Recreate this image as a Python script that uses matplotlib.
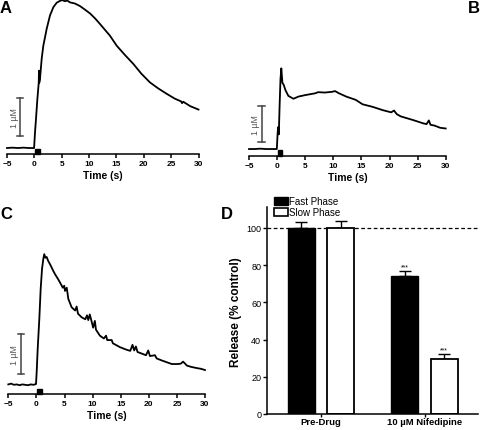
import matplotlib
matplotlib.use('Agg')
import matplotlib.pyplot as plt
from matplotlib.patches import Rectangle, Patch
import numpy as np

plt.rcParams['font.family'] = ['Liberation Sans', 'DejaVu Sans']

# traces, time in s and calcium in uM above baseline
tA = [-5, -4, -3, -2, -1, -0.05, 0.12, 0.3, 0.55, 0.8, 0.85, 0.9, 1.03, 1.34, 1.64, 2.25,
      2.86, 3.47, 4.08, 4.69, 5.1, 5.6, 6.0, 6.5, 7.4, 8.35, 9.3, 10.2, 11.1, 12.0, 13.8,
      15.05, 16.5, 18.1, 19.5, 21.1, 22.6, 24.2, 25.7, 26.8, 27.0, 27.2, 28.5, 30]
cA = [0, 0.01, 0, 0.01, 0, 0, 0.42, 0.78, 1.31, 1.75, 2.07, 1.75, 1.85, 2.39, 2.74, 3.19,
      3.55, 3.77, 3.89, 3.94, 3.96, 3.93, 3.95, 3.9, 3.87, 3.8, 3.7, 3.6, 3.47, 3.32, 3.01,
      2.74, 2.5, 2.25, 2.0, 1.76, 1.6, 1.45, 1.32, 1.25, 1.2, 1.24, 1.12, 1.03]

tB = [-5, -4, -3, -2, -1, -0.05, 0.1, 0.2, 0.3, 0.45, 0.6, 0.75, 0.95, 1.15, 1.5, 2.0,
      2.9, 3.8, 5.0, 6.8, 7.3, 8.5, 9.8, 10.3, 11.0, 12.3, 14.0, 15.2, 17.0, 18.8, 20.3,
      20.8, 21.3, 22.0, 24.2, 26.0, 26.6, 27.0, 27.3, 28.0, 29.0, 30.0]
cB = [0, 0, 0.01, 0, 0, 0, 0.45, 0.6, 0.4, 1.2, 1.9, 2.2, 1.8, 1.76, 1.6, 1.45,
      1.37, 1.43, 1.47, 1.52, 1.55, 1.54, 1.56, 1.58, 1.52, 1.43, 1.34, 1.22, 1.15, 1.06, 1.0,
      1.05, 0.95, 0.89, 0.79, 0.7, 0.68, 0.78, 0.66, 0.64, 0.58, 0.56]

tC = [-5, -4.5, -4, -3.5, -3, -2.5, -2, -1.5, -1, -0.5, -0.07, 0.05, 0.23, 0.52, 0.76, 1.0,
      1.23, 1.4, 1.6, 1.83, 2.1, 2.42, 2.9, 3.31, 3.8, 4.2, 4.7, 4.95, 5.09, 5.4, 5.68, 6.27,
      6.9, 7.16, 7.4, 8.05, 8.7, 9.0, 9.23, 9.5, 9.8, 10.1, 10.4, 10.6, 11.3, 12.0, 12.4,
      12.6, 13.4, 13.6, 14.9, 16.0, 16.7, 17.1, 17.4, 17.7, 18.0, 18.4, 19.5, 19.9, 20.2,
      21.1, 21.4, 22.3, 23.5, 24.1, 25.2, 25.7, 26.1, 26.8, 27.5, 28.5, 29.3, 30.0]
cC = [0.03, 0.05, 0.02, 0.03, 0.01, 0.03, 0.02, 0.01, 0.03, 0.02, 0.04, 0.34, 0.92, 1.67, 2.42, 2.92,
      3.17, 3.29, 3.2, 3.22, 3.12, 3.04, 2.9, 2.79, 2.68, 2.58, 2.45, 2.5, 2.37, 2.45, 2.17, 1.96,
      1.88, 1.98, 1.8, 1.71, 1.66, 1.76, 1.64, 1.78, 1.62, 1.45, 1.62, 1.4, 1.25, 1.18, 1.25,
      1.14, 1.14, 1.06, 0.96, 0.9, 0.87, 1.02, 0.88, 0.98, 0.84, 0.82, 0.76, 0.88, 0.74,
      0.76, 0.68, 0.63, 0.57, 0.54, 0.54, 0.55, 0.6, 0.5, 0.47, 0.44, 0.42, 0.39]

xticks = [-5, 0, 5, 10, 15, 20, 25, 30]
stim = [0.1, 0.95]

# panel D
groups = ['Pre-Drug', '10 \u00b5M Nifedipine']
fast = [100, 74]
fast_err = [3, 2.6]
slow = [100, 29.4]
slow_err = [3.5, 2.7]
sig = ['', '***']

W, H = 480, 431
fig = plt.figure(figsize=(W / 100, H / 100), dpi=100)


def box(l, t, r, b):
    return [l / W, 1 - b / H, (r - l) / W, (b - t) / H]


def trace_panel(rect, t, c, ylim, bar_x, bar_y0, lab_x, stim_h):
    ax = fig.add_axes(rect)
    ax.plot(t, c, color='black', lw=1.3, clip_on=False)
    ax.set_xlim(-5, 30)
    ax.set_ylim(*ylim)
    for s in ['left', 'top', 'right']:
        ax.spines[s].set_visible(False)
    ax.spines['bottom'].set_linewidth(1.1)
    ax.set_yticks([])
    ax.set_xticks(xticks)
    ax.tick_params(axis='x', direction='out', length=3, width=1.1, pad=1.5, labelsize=6)
    for lb in ax.get_xticklabels():
        lb.set_fontweight('bold')
    ax.set_xlabel('Time (s)', fontsize=7.5, fontweight='bold', labelpad=2)
    # scale bar 1 uM
    ax.plot([bar_x, bar_x], [bar_y0, bar_y0 + 1], color='#444444', lw=1.1)
    ax.plot([bar_x - 0.6, bar_x + 0.6], [bar_y0, bar_y0], color='#444444', lw=1.1)
    ax.plot([bar_x - 0.6, bar_x + 0.6], [bar_y0 + 1, bar_y0 + 1], color='#444444', lw=1.1)
    ax.text(lab_x, bar_y0 + 0.5, '1 \u00b5M', rotation=90, ha='center', va='center',
            fontsize=6.3, color='#555555')
    ax.add_patch(Rectangle((stim[0], ylim[0]), stim[1] - stim[0], stim_h,
                           color='black', clip_on=False))
    return ax


trace_panel(box(7, 0, 198.5, 155), tA, cA, (-0.16, 3.99), -2.62, 0.33, -3.7, 0.13)
trace_panel(box(249, 0, 445.7, 157), tB, cB, (-0.19, 4.09), -2.74, 0.18, -3.9, 0.16)
trace_panel(box(8.3, 230, 205, 395), tC, cC, (-0.21, 3.92), -2.74, 0.29, -3.85, 0.13)

# panel D bars
axD = fig.add_axes(box(266.7, 208.3, 478, 415))
x = np.arange(len(groups))
bw = 0.26
off = 0.19
axD.axhline(100, color='black', lw=0.9, ls=(0, (3, 2)), zorder=0)
axD.bar(x - off, fast, bw, color='black', edgecolor='black', lw=1.0, zorder=2)
axD.bar(x + off, slow, bw, color='white', edgecolor='black', lw=1.3, zorder=2)
for xi, v, e in zip(x - off, fast, fast_err):
    axD.errorbar(xi, v, yerr=[[0], [e]], color='black', lw=1.0, capsize=4, capthick=1.0, zorder=1)
for xi, v, e in zip(x + off, slow, slow_err):
    axD.errorbar(xi, v, yerr=[[0], [e]], color='black', lw=1.0, capsize=4, capthick=1.0, zorder=1)
for i, s in enumerate(sig):
    if s:
        axD.text(x[i] - off, fast[i] + fast_err[i] + 0.5, s, ha='center', va='bottom', fontsize=5)
        axD.text(x[i] + off, slow[i] + slow_err[i] + 0.5, s, ha='center', va='bottom', fontsize=5)
axD.set_xlim(-0.525, 1.517)
axD.set_ylim(0, 111)
axD.set_yticks([0, 20, 40, 60, 80, 100])
axD.set_xticks(x)
axD.set_xticklabels(groups, fontsize=6.8, fontweight='bold')
axD.tick_params(axis='y', direction='out', length=3, width=1.0, pad=1, labelsize=6.5)
axD.tick_params(axis='x', direction='out', length=2, width=1.0, pad=0.3)
axD.spines['top'].set_visible(False)
axD.spines['right'].set_visible(False)
axD.spines['left'].set_linewidth(1.1)
axD.spines['bottom'].set_linewidth(1.1)
axD.set_ylabel('Release (% control)', fontsize=8.5, fontweight='bold', labelpad=3)

handles = [Patch(facecolor='black', edgecolor='black', lw=1.0),
           Patch(facecolor='white', edgecolor='black', lw=1.2)]
fig.legend(handles, ['Fast Phase', 'Slow Phase'], loc='upper left',
           bbox_to_anchor=(274 / W, 1 - 197 / H), frameon=False, fontsize=7,
           handlelength=1.4, handleheight=0.9, handletextpad=0.1, labelspacing=0.15,
           borderpad=0, borderaxespad=0)

# panel letters
for lab, px, py in [('A', 0, 1), ('B', 468, 1), ('C', 0, 207), ('D', 221, 207)]:
    fig.text(px / W, 1 - py / H, lab, fontsize=12, fontweight='bold', ha='left', va='top')

fig.savefig('out.png', dpi=100)
